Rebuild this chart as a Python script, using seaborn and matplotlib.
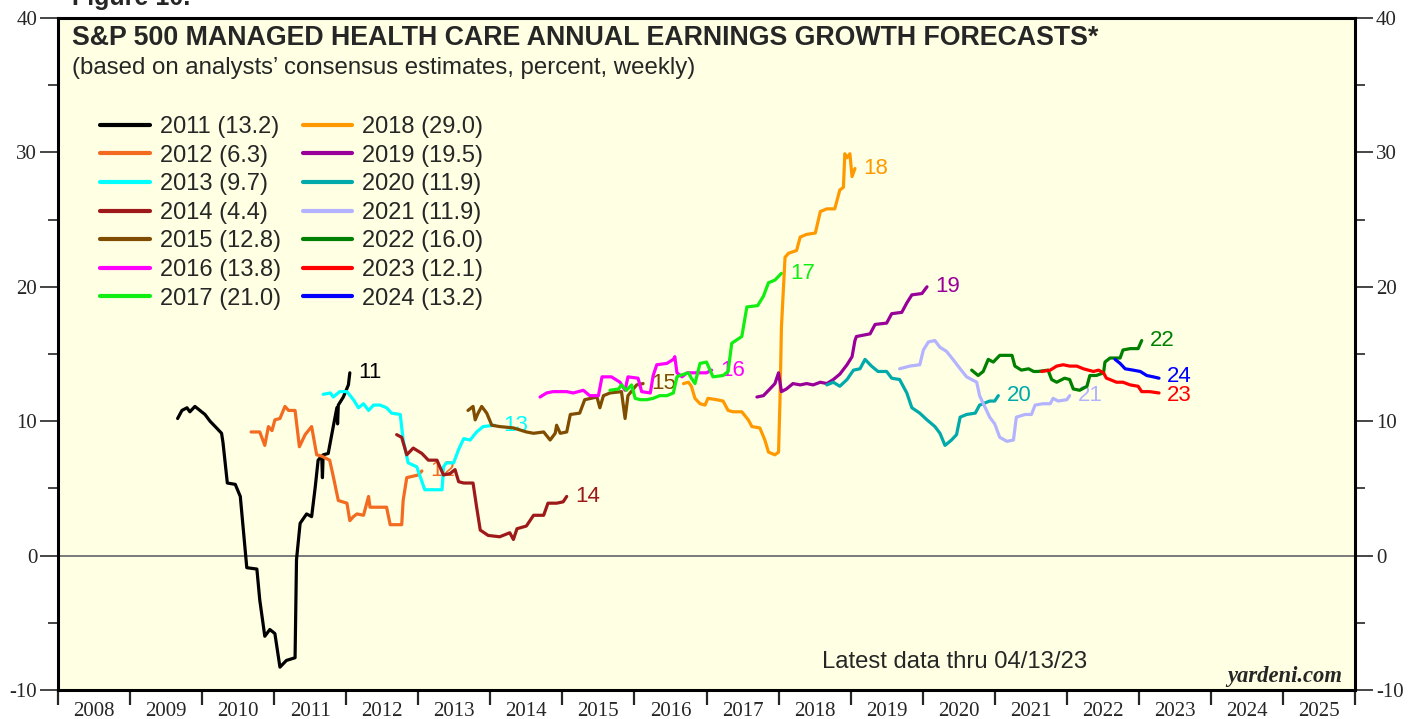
import matplotlib
matplotlib.use("Agg")
import matplotlib.pyplot as plt
from matplotlib.lines import Line2D
import seaborn as sns

# forecast series: decimal year, percent
t2011 = [2009.66, 2009.72, 2009.79, 2009.83, 2009.90, 2009.97, 2010.04, 2010.11, 2010.20, 2010.27,
         2010.29, 2010.35, 2010.46, 2010.53, 2010.62, 2010.76, 2010.80, 2010.87, 2010.94, 2011.01,
         2011.08, 2011.17, 2011.29, 2011.31, 2011.36, 2011.45, 2011.52, 2011.57, 2011.61, 2011.66,
         2011.67, 2011.68, 2011.75, 2011.82, 2011.87, 2011.88, 2011.89, 2011.96, 2012.03, 2012.05]
v2011 = [10.2, 10.8, 11.0, 10.7, 11.1, 10.8, 10.5, 10.0, 9.5, 9.1,
         8.4, 5.4, 5.3, 4.4, -0.9, -1.0, -3.3, -6.0, -5.5, -5.8,
         -8.3, -7.8, -7.6, -0.3, 2.4, 3.1, 2.9, 5.1, 7.1, 7.4,
         5.8, 7.5, 7.6, 9.6, 11.0, 9.8, 11.2, 11.8, 12.7, 13.6]

t2012 = [2010.68, 2010.80, 2010.87, 2010.92, 2010.97, 2011.01, 2011.08, 2011.15, 2011.20, 2011.29,
         2011.35, 2011.43, 2011.52, 2011.59, 2011.66, 2011.77, 2011.82, 2011.89, 2012.01, 2012.05,
         2012.10, 2012.15, 2012.24, 2012.31, 2012.33, 2012.56, 2012.61, 2012.77, 2012.79, 2012.84,
         2013.00, 2013.05]
v2012 = [9.2, 9.2, 8.2, 9.6, 9.3, 10.1, 10.2, 11.1, 10.8, 10.8,
         8.1, 9.0, 9.6, 7.5, 7.4, 7.1, 5.9, 4.1, 3.9, 2.6,
         2.9, 3.1, 3.0, 4.4, 3.6, 3.6, 2.3, 2.3, 4.1, 5.8,
         6.0, 6.3]

t2013 = [2011.68, 2011.78, 2011.82, 2011.91, 2012.01, 2012.10, 2012.17, 2012.24, 2012.31, 2012.38,
         2012.47, 2012.56, 2012.63, 2012.75, 2012.79, 2012.86, 2012.98, 2013.09, 2013.33, 2013.35,
         2013.39, 2013.49, 2013.56, 2013.63, 2013.72, 2013.81, 2013.90, 2014.06]
v2013 = [12.0, 12.1, 11.8, 12.2, 12.2, 11.6, 11.0, 11.3, 10.8, 11.2,
         11.2, 11.0, 10.6, 10.5, 8.6, 6.9, 6.6, 4.9, 4.9, 6.6,
         6.9, 6.9, 7.9, 8.7, 8.6, 9.2, 9.6, 9.7]

t2014 = [2012.70, 2012.77, 2012.84, 2012.93, 2013.05, 2013.14, 2013.26, 2013.30, 2013.35, 2013.44,
         2013.51, 2013.56, 2013.63, 2013.76, 2013.81, 2013.86, 2013.97, 2014.13, 2014.27, 2014.32,
         2014.37, 2014.50, 2014.60, 2014.74, 2014.80, 2014.92, 2015.01, 2015.06]
v2014 = [9.0, 8.8, 7.5, 8.0, 7.6, 7.1, 7.1, 6.6, 6.0, 6.1,
         6.4, 5.5, 5.4, 5.4, 3.6, 1.9, 1.5, 1.4, 1.7, 1.2,
         2.0, 2.2, 3.0, 3.0, 3.9, 3.9, 4.0, 4.4]

t2015 = [2013.69, 2013.76, 2013.79, 2013.83, 2013.88, 2013.95, 2014.02, 2014.13, 2014.32, 2014.50,
         2014.60, 2014.74, 2014.83, 2014.90, 2014.92, 2014.97, 2015.06, 2015.11, 2015.24, 2015.31,
         2015.48, 2015.52, 2015.57, 2015.66, 2015.82, 2015.87, 2015.91, 2016.03, 2016.12]
v2015 = [10.8, 11.1, 10.1, 10.6, 11.1, 10.6, 9.7, 9.6, 9.5, 9.2,
         9.1, 9.2, 8.6, 9.1, 9.7, 9.1, 9.2, 10.5, 10.6, 11.6,
         11.8, 11.0, 11.9, 12.1, 12.2, 10.2, 11.9, 12.7, 12.8]

t2016 = [2014.69, 2014.78, 2014.87, 2015.06, 2015.15, 2015.29, 2015.38, 2015.50, 2015.55, 2015.68,
         2015.80, 2015.87, 2015.91, 2016.05, 2016.10, 2016.22, 2016.26, 2016.31, 2016.45, 2016.54,
         2016.56, 2016.59, 2016.66, 2016.73, 2016.86, 2017.00, 2017.07]
v2016 = [11.8, 12.1, 12.2, 12.2, 12.1, 12.3, 11.9, 11.9, 13.3, 13.3,
         12.9, 12.3, 13.3, 13.2, 12.2, 12.1, 13.4, 14.2, 14.3, 14.6,
         14.8, 13.6, 13.3, 13.6, 13.6, 13.6, 13.8]

t2017 = [2015.66, 2015.78, 2015.82, 2015.89, 2015.96, 2016.01, 2016.08, 2016.17, 2016.26, 2016.35,
         2016.45, 2016.54, 2016.59, 2016.63, 2016.75, 2016.79, 2016.84, 2016.91, 2017.00, 2017.09,
         2017.23, 2017.30, 2017.35, 2017.49, 2017.56, 2017.71, 2017.79, 2017.86, 2017.95, 2018.04]
v2017 = [12.3, 12.4, 12.7, 12.3, 12.7, 11.7, 11.6, 11.6, 11.7, 11.9,
         11.9, 12.1, 13.3, 13.4, 13.6, 13.2, 12.8, 14.3, 14.4, 13.3,
         13.4, 13.7, 15.8, 16.3, 18.5, 18.6, 19.3, 20.3, 20.5, 21.0]

t2018 = [2016.68, 2016.75, 2016.79, 2016.84, 2016.91, 2016.98, 2017.02, 2017.14, 2017.23, 2017.30,
         2017.37, 2017.49, 2017.58, 2017.63, 2017.74, 2017.81, 2017.86, 2017.95, 2018.00, 2018.02,
         2018.04, 2018.09, 2018.14, 2018.25, 2018.30, 2018.39, 2018.51, 2018.58, 2018.67, 2018.78,
         2018.85, 2018.90, 2018.92, 2018.95, 2018.99, 2019.02, 2019.06]
v2018 = [12.8, 12.9, 12.6, 11.7, 11.3, 11.2, 11.7, 11.6, 11.5, 10.8,
         10.7, 10.7, 10.1, 9.6, 9.5, 8.6, 7.7, 7.5, 7.7, 11.6,
         17.0, 22.2, 22.5, 22.7, 23.7, 23.9, 24.0, 25.6, 25.8, 25.8,
         27.2, 27.4, 29.9, 29.6, 29.9, 28.2, 28.8]

t2019 = [2017.70, 2017.79, 2017.88, 2017.95, 2018.00, 2018.04, 2018.11, 2018.20, 2018.30, 2018.39,
         2018.48, 2018.58, 2018.67, 2018.76, 2018.85, 2018.95, 2019.02, 2019.06, 2019.08, 2019.27,
         2019.34, 2019.50, 2019.57, 2019.71, 2019.78, 2019.85, 2019.99, 2020.06]
v2019 = [11.8, 11.9, 12.4, 12.8, 13.6, 12.2, 12.4, 12.8, 12.7, 12.8,
         12.7, 12.9, 12.8, 13.1, 13.5, 14.2, 14.8, 16.0, 16.3, 16.5,
         17.2, 17.3, 18.0, 18.1, 18.8, 19.4, 19.5, 20.0]

t2020 = [2018.67, 2018.76, 2018.85, 2018.95, 2019.04, 2019.13, 2019.20, 2019.29, 2019.38, 2019.50,
         2019.57, 2019.68, 2019.78, 2019.85, 2019.96, 2020.06, 2020.17, 2020.24, 2020.31, 2020.40,
         2020.47, 2020.52, 2020.61, 2020.73, 2020.79, 2020.93, 2021.00, 2021.05]
v2020 = [12.7, 12.9, 12.6, 13.1, 13.8, 13.9, 14.6, 14.1, 13.7, 13.7,
         13.2, 13.1, 12.1, 11.0, 10.6, 10.1, 9.6, 9.1, 8.2, 8.6,
         9.0, 10.3, 10.5, 10.6, 11.2, 11.5, 11.5, 11.9]

t2021 = [2019.68, 2019.82, 2019.96, 2020.01, 2020.08, 2020.17, 2020.24, 2020.33, 2020.42, 2020.52,
         2020.61, 2020.75, 2020.79, 2020.86, 2020.93, 2021.00, 2021.07, 2021.17, 2021.26, 2021.30,
         2021.42, 2021.51, 2021.56, 2021.67, 2021.77, 2021.81, 2021.88, 2022.00, 2022.04]
v2021 = [13.9, 14.1, 14.2, 15.3, 15.9, 16.0, 15.5, 15.2, 14.6, 13.9,
         13.3, 12.9, 11.9, 11.1, 10.3, 9.8, 8.8, 8.5, 8.6, 10.3,
         10.5, 10.5, 11.2, 11.3, 11.3, 11.7, 11.5, 11.6, 11.9]

t2022 = [2020.68, 2020.77, 2020.84, 2020.91, 2020.98, 2021.07, 2021.24, 2021.28, 2021.37, 2021.47,
         2021.54, 2021.60, 2021.74, 2021.79, 2021.86, 2021.97, 2022.04, 2022.09, 2022.18, 2022.28,
         2022.32, 2022.41, 2022.51, 2022.53, 2022.60, 2022.74, 2022.78, 2022.88, 2022.99, 2023.04]
v2022 = [13.8, 13.4, 13.7, 14.6, 14.4, 14.9, 14.9, 14.1, 13.8, 13.9,
         13.7, 13.7, 13.8, 13.1, 12.9, 13.2, 13.1, 12.4, 12.3, 12.6,
         13.4, 13.4, 13.6, 14.4, 14.7, 14.7, 15.3, 15.4, 15.4, 16.0]

t2023 = [2021.65, 2021.77, 2021.86, 2021.95, 2022.04, 2022.14, 2022.23, 2022.30, 2022.37, 2022.44,
         2022.51, 2022.55, 2022.60, 2022.69, 2022.78, 2022.88, 2022.99, 2023.04, 2023.15, 2023.28]
v2023 = [13.7, 13.8, 14.1, 14.2, 14.1, 14.1, 13.9, 13.8, 13.7, 13.8,
         13.6, 13.2, 13.1, 12.9, 12.9, 12.7, 12.6, 12.2, 12.2, 12.1]

t2024 = [2022.67, 2022.74, 2022.81, 2022.92, 2023.02, 2023.11, 2023.20, 2023.28]
v2024 = [14.6, 14.3, 13.9, 13.8, 13.7, 13.4, 13.3, 13.2]

years = [2011, 2012, 2013, 2014, 2015, 2016, 2017, 2018, 2019, 2020, 2021, 2022, 2023, 2024]
final = ["13.2", "6.3", "9.7", "4.4", "12.8", "13.8", "21.0", "29.0", "19.5", "11.9", "11.9", "16.0", "12.1", "13.2"]
colors = ["#000000", "#F26B21", "#00FFFF", "#9E1A1A", "#7F4C00", "#FF00FF", "#11EE11",
          "#FF9900", "#990099", "#00AAAA", "#B3B3FF", "#008000", "#FF0000", "#0000FF"]
series = [(t2011, v2011), (t2012, v2012), (t2013, v2013), (t2014, v2014), (t2015, v2015),
          (t2016, v2016), (t2017, v2017), (t2018, v2018), (t2019, v2019), (t2020, v2020),
          (t2021, v2021), (t2022, v2022), (t2023, v2023), (t2024, v2024)]
x_years = list(range(2008, 2026))

sns.set_style("ticks")
plt.rcParams['font.family'] = ['Liberation Sans', 'DejaVu Sans']
plt.rcParams['axes.unicode_minus'] = False

fig = plt.figure(figsize=(14.19, 7.19), dpi=100)
ax = fig.add_axes([58 / 1419, 1 - 690 / 719, 1297 / 1419, 672 / 719])
ax.set_facecolor("#FFFFE3")

ax.axhline(0, color="#7a7a7a", lw=1.4, zorder=1)

# small vertical nudges for the end labels that sit close together (points)
nudge = {2023: -2, 2024: 1}

for i, (tt, vv) in enumerate(series):
    sns.lineplot(x=tt, y=vv, color=colors[i], lw=2.3, sort=False, estimator=None,
                 ax=ax, zorder=3 + i)
    ax.annotate(str(years[i])[2:], (tt[-1], vv[-1]), xytext=(6, nudge.get(years[i], 0)),
                textcoords="offset points", color=colors[i], fontsize=16,
                va="center", ha="left", zorder=3.5 + i)

ax.set_xlim(2008, 2026)
ax.set_ylim(-10, 40)
ax.set_xlabel("")
ax.set_ylabel("")

ax.set_xticks(range(2008, 2027))
ax.set_xticklabels([])
ax.set_xticks([y + 0.5 for y in x_years], minor=True)
ax.set_xticklabels([str(y) for y in x_years], minor=True, fontfamily="Liberation Serif", fontsize=15)
ax.tick_params(axis="x", which="major", length=11, width=1.6, direction="out")
ax.tick_params(axis="x", which="minor", length=0, pad=9)

ax.set_yticks(range(-10, 41, 10))
ax.set_yticks(range(-5, 40, 10), minor=True)
ax.tick_params(axis="y", which="both", left=True, right=True, labelleft=True, labelright=True,
               direction="out", width=1.2)
ax.tick_params(axis="y", which="major", length=13, pad=2)
ax.tick_params(axis="y", which="minor", length=7)
for lab in ax.get_yticklabels():
    lab.set_fontfamily("Liberation Serif")
    lab.set_fontsize(15)

for sp in ax.spines.values():
    sp.set_visible(True)
    sp.set_linewidth(2.2)
    sp.set_color("black")

handles = [Line2D([], [], color=c, lw=3) for c in colors]
labels = [f"{y} ({f})" for y, f in zip(years, final)]
ax.legend(handles, labels, ncol=2, loc="upper left", bbox_to_anchor=(42 / 1297, 574 / 672),
          frameon=False, fontsize=17, handlelength=2.1, handletextpad=0.42, columnspacing=0.93,
          labelspacing=0.28, borderpad=0, borderaxespad=0)

ax.text(14 / 1297, 0.970, "S&P 500 MANAGED HEALTH CARE ANNUAL EARNINGS GROWTH FORECASTS*",
        transform=ax.transAxes, fontsize=19.3, fontweight="bold", va="center", ha="left")
ax.text(14 / 1297, 0.9256, "(based on analysts\u2019 consensus estimates, percent, weekly)",
        transform=ax.transAxes, fontsize=17.3, va="center", ha="left")
ax.text(0.6916, 0.0417, "Latest data thru 04/13/23", transform=ax.transAxes,
        fontsize=17.2, va="center", ha="center")
ax.text(0.99, 0.0208, "yardeni.com", transform=ax.transAxes, fontsize=16.3,
        fontfamily="Liberation Serif", fontweight="bold", fontstyle="italic", va="center", ha="right")
fig.text(72 / 1419, 1 - 5 / 719, "Figure 10.", fontsize=18, fontweight="bold", va="baseline", ha="left")

fig.savefig("out.png", dpi=100)
